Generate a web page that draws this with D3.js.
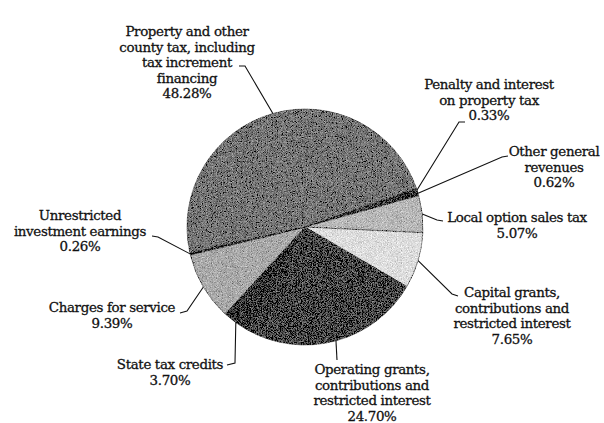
<!DOCTYPE html>
<html>
<head>
<meta charset="utf-8">
<title>Revenue pie</title>
<script src="https://d3js.org/d3.v7.min.js"></script>
<style>
  body { margin: 0; background: #fff; }
  .lbl { font-family: "DejaVu Serif", serif; font-size: 13.4px; fill: #111; stroke: #111; stroke-width: 0.3px; letter-spacing: -0.35px; }
  .leader { fill: none; stroke: #111; stroke-width: 1.1; }
</style>
</head>
<body>
<div id="chart"></div>
<script>
// slices, clockwise from the left edge of the big slice
var categories = [
  "Property and other county tax, including tax increment financing",
  "Penalty and interest on property tax",
  "Other general revenues",
  "Local option sales tax",
  "Capital grants, contributions and restricted interest",
  "Operating grants, contributions and restricted interest",
  "State tax credits",
  "Charges for service",
  "Unrestricted investment earnings"
];
var values = [48.28, 0.33, 0.62, 5.07, 7.65, 24.70, 3.70, 9.39, 0.26];
var labelLines = [
  ["Property and other", "county tax, including", "tax increment", "financing"],
  ["Penalty and interest", "on property tax"],
  ["Other general", "revenues"],
  ["Local option sales tax"],
  ["Capital grants,", "contributions and", "restricted interest"],
  ["Operating grants,", "contributions and", "restricted interest"],
  ["State tax credits"],
  ["Charges for service"],
  ["Unrestricted", "investment earnings"]
];

var fills = ["#777", "#333", "#333", "#b9b9b9", "#dedede", "#4a4a4a", "#383838", "#aaa", "#333"];

// label block: centre x, first baseline, and where the leader meets the text
var labelPos = [
  {x: 187, y: 36, anchor: [239, 66], elbow: [245, 66]},
  {x: 489, y: 89, anchor: [465, 122], elbow: [459, 122]},
  {x: 554, y: 156, anchor: [508, 156], elbow: [502, 157]},
  {x: 517, y: 222, anchor: [443, 221], elbow: [437, 220]},
  {x: 512, y: 297, anchor: [458, 296], elbow: [452, 294]},
  {x: 372, y: 374, anchor: [337, 360], elbow: null},
  {x: 170, y: 369, anchor: [227, 365], elbow: [235, 363]},
  {x: 112, y: 312, anchor: [180, 313], elbow: [187, 311]},
  {x: 80, y: 220, anchor: [152, 236], elbow: [158, 237]}
];

var width = 604, height = 423;
var cx = 305, cy = 227, r = 118;
var lineH = 15.5;

var svg = d3.select("#chart").append("svg")
  .attr("width", width)
  .attr("height", height);

// grainy halftone look of the scanned original
var defs = svg.append("defs");
var flt = defs.append("filter").attr("id", "grain")
  .attr("filterUnits", "userSpaceOnUse")
  .attr("x", 0).attr("y", 0).attr("width", width).attr("height", height);
flt.append("feTurbulence").attr("type", "fractalNoise")
  .attr("baseFrequency", 1.2).attr("numOctaves", 1).attr("seed", 3).attr("result", "noise");
flt.append("feColorMatrix").attr("in", "noise").attr("type", "matrix")
  .attr("values", "0.33 0.33 0.33 0 0  0.33 0.33 0.33 0 0  0.33 0.33 0.33 0 0  0 0 0 0 1")
  .attr("result", "gnoise");
flt.append("feComposite").attr("in", "SourceGraphic").attr("in2", "gnoise")
  .attr("operator", "arithmetic")
  .attr("k1", 0).attr("k2", 1).attr("k3", 1.5).attr("k4", -0.75)
  .attr("result", "mix");
flt.append("feComposite").attr("in", "mix").attr("in2", "SourceGraphic")
  .attr("operator", "in");

var startA = -102.7 * Math.PI / 180;
var pie = d3.pie().sort(null).value(function(d) { return d; })
  .startAngle(startA).endAngle(startA + 2 * Math.PI);
var arcs = pie(values);
var arc = d3.arc().innerRadius(0).outerRadius(r);

var g = svg.append("g").attr("filter", "url(#grain)");

g.append("g").attr("transform", "translate(" + cx + "," + cy + ")")
  .selectAll("path")
  .data(arcs)
  .enter().append("path")
  .attr("d", arc)
  .attr("fill", function(d, i) { return fills[i]; })
  .attr("stroke", "#2a2a2a")
  .attr("stroke-width", 0.5);

// leader lines from the rim at each slice's mid angle
arcs.forEach(function(d, i) {
  var a = (d.startAngle + d.endAngle) / 2;
  var px = cx + Math.sin(a) * r, py = cy - Math.cos(a) * r;
  var p = labelPos[i];
  var pts = [[px, py]];
  if (p.elbow) pts.push(p.elbow);
  pts.push(p.anchor);
  svg.append("path").attr("class", "leader").attr("d", d3.line()(pts));

  var t = svg.append("text").attr("class", "lbl").attr("text-anchor", "middle");
  var lines = labelLines[i].concat([values[i].toFixed(2) + "%"]);
  lines.forEach(function(s, k) {
    t.append("tspan").attr("x", p.x).attr("y", p.y + k * lineH).text(s);
  });
});
</script>
</body>
</html>
